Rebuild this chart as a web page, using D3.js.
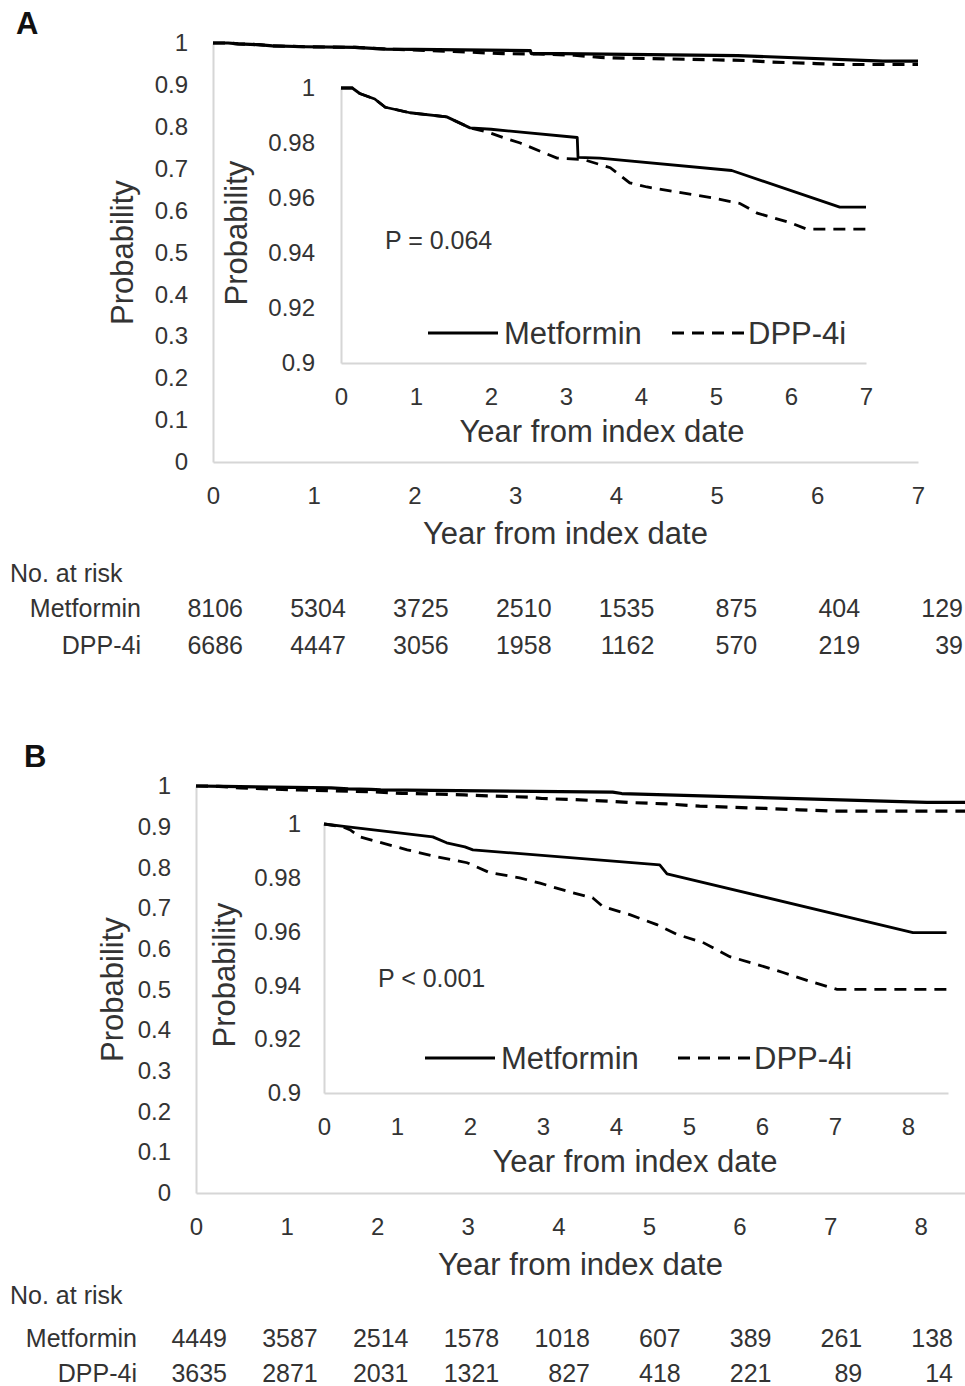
<!DOCTYPE html>
<html lang="en">
<head>
<meta charset="utf-8">
<title>Metformin vs DPP-4i</title>
<script src="https://cdn.jsdelivr.net/npm/d3@7"></script>
<style>
body { margin: 0; background: #fff; }
svg { display: block; font-family: "Liberation Sans", Arial, sans-serif; }
</style>
</head>
<body>
<script>
// ---- data ----
var seriesNames = ["Metformin", "DPP-4i"];

// panel A: [year, probability]
var metA = [[0,1],[0.15,1],[0.25,0.998],[0.45,0.996],[0.59,0.993],[0.92,0.991],[1.41,0.9895],
            [1.72,0.9855],[2.0,0.985],[3.15,0.982],[3.16,0.9748],[3.45,0.9745],[5.21,0.970],
            [6.65,0.9567],[7.0,0.9567]];
var dppA = [[0,1],[0.15,1],[0.25,0.998],[0.45,0.996],[0.59,0.993],[0.92,0.991],[1.41,0.9895],
            [1.72,0.9855],[1.95,0.984],[2.16,0.982],[2.39,0.980],[2.88,0.9745],[3.23,0.974],
            [3.59,0.971],[3.85,0.9655],[4.08,0.964],[4.96,0.960],[5.32,0.958],[5.55,0.9545],
            [5.99,0.951],[6.21,0.9487],[7.0,0.9487]];
var riskMetA = [8106, 5304, 3725, 2510, 1535, 875, 404, 129];
var riskDppA = [6686, 4447, 3056, 1958, 1162, 570, 219, 39];
var pTextA = "P = 0.064";

// panel B
var metB = [[0,1],[0.3,0.999],[1.49,0.9952],[1.68,0.993],[1.93,0.9915],[2.04,0.9904],
            [4.60,0.9848],[4.70,0.9815],[8.07,0.9596],[8.53,0.9596]];
var dppB = [[0,1],[0.25,0.999],[0.36,0.9978],[0.49,0.9952],[1.14,0.9904],[1.55,0.9878],
            [1.96,0.9856],[2.27,0.9819],[2.68,0.980],[2.96,0.978],[3.41,0.9744],[3.68,0.9726],
            [3.82,0.9693],[4.19,0.9663],[4.56,0.9626],[4.84,0.9589],[5.19,0.956],[5.56,0.9507],
            [5.93,0.9478],[6.29,0.9448],[6.66,0.9415],[7.03,0.9385],[8.53,0.9385]];
var riskMetB = [4449, 3587, 2514, 1578, 1018, 607, 389, 261, 138];
var riskDppB = [3635, 2871, 2031, 1321, 827, 418, 221, 89, 14];
var pTextB = "P < 0.001";

// ticks
var yTicksMain = [0, 0.1, 0.2, 0.3, 0.4, 0.5, 0.6, 0.7, 0.8, 0.9, 1];
var yTicksInset = [0.9, 0.92, 0.94, 0.96, 0.98, 1];
var xTicksA = [0, 1, 2, 3, 4, 5, 6, 7];
var xTicksB = [0, 1, 2, 3, 4, 5, 6, 7, 8];

var xTitle = "Year from index date";
var yTitle = "Probability";
var riskTitle = "No. at risk";

var W = 965, H = 1386;
var txt = "#333";
var axisCol = "#d6d6d6";
var fmt = function(d) { return String(+d.toFixed(2)); };

var svg = d3.select("body").append("svg")
  .attr("width", W).attr("height", H);
svg.append("rect").attr("width", W).attr("height", H).attr("fill", "#fff");

var line = function(x, y) {
  return d3.line().x(function(d){ return x(d[0]); }).y(function(d){ return y(d[1]); });
};

function styleAxis(g, size) {
  g.select(".domain").attr("stroke", axisCol).attr("stroke-width", 2);
  g.selectAll(".tick line").remove();
  g.selectAll("text").attr("font-size", size).attr("fill", txt)
   .attr("font-family", "'Liberation Sans', Arial, sans-serif");
}

function drawAxes(x, y, xt, yt, pad, fontSize) {
  var gx = svg.append("g").attr("transform", "translate(0," + y.range()[0] + ")")
    .call(d3.axisBottom(x).tickValues(xt).tickFormat(fmt).tickSize(0).tickSizeOuter(0).tickPadding(pad.x));
  styleAxis(gx, fontSize);
  var gy = svg.append("g").attr("transform", "translate(" + x.range()[0] + ",0)")
    .call(d3.axisLeft(y).tickValues(yt).tickFormat(fmt).tickSize(0).tickSizeOuter(0).tickPadding(pad.y));
  styleAxis(gy, fontSize);
}

function drawCurves(x, y, met, dpp, sw) {
  svg.append("path").datum(met).attr("d", line(x, y))
    .attr("fill", "none").attr("stroke", "#000").attr("stroke-width", sw)
    .attr("stroke-linejoin", "round");
  svg.append("path").datum(dpp).attr("d", line(x, y))
    .attr("fill", "none").attr("stroke", "#000").attr("stroke-width", sw)
    .attr("stroke-dasharray", "12,8");
}

function label(x, y, s, size, anchor, rot) {
  var t = svg.append("text").attr("x", x).attr("y", y).attr("dy", "0.35em")
    .attr("font-size", size).attr("fill", txt).attr("text-anchor", anchor || "start")
    .text(s);
  if (rot) t.attr("transform", "rotate(-90," + x + "," + y + ")");
  return t;
}

function panel(p) {
  // letter
  svg.append("text").attr("x", p.letter[0]).attr("y", p.letter[1])
    .attr("font-size", 31).attr("font-weight", "bold").attr("fill", "#111").text(p.name);

  // main chart
  var x = d3.scaleLinear().domain(p.mainX).range([p.main.l, p.main.r]);
  var y = d3.scaleLinear().domain([0, 1]).range([p.main.b, p.main.t]);
  drawAxes(x, y, p.xt, yTicksMain, {x: 25, y: 25}, 24);
  drawCurves(x, y, p.met, p.dpp, 3.2);
  label((p.main.l + p.main.r2) / 2, p.main.b + 71, xTitle, 31, "middle");
  label(p.main.yt, (p.main.t + p.main.b) / 2, yTitle, 31, "middle", true);

  // inset chart
  var xi = d3.scaleLinear().domain(p.insetX).range([p.inset.l, p.inset.r]);
  var yi = d3.scaleLinear().domain([0.9, 1]).range([p.inset.b, p.inset.t]);
  drawAxes(xi, yi, p.xt, yTicksInset, {x: 25, y: p.inset.pad}, 24);
  drawCurves(xi, yi, p.met, p.dpp, 2.8);
  label(p.inset.xc, p.inset.b + 68, xTitle, 31, "middle");
  label(p.inset.yt, p.inset.yc, yTitle, 31, "middle", true);
  label(p.pPos[0], p.pPos[1], p.pText, 25, "start");

  // legend
  var lg = p.legend;
  svg.append("line").attr("x1", lg.x1).attr("x2", lg.x1 + 70).attr("y1", lg.y).attr("y2", lg.y)
    .attr("stroke", "#000").attr("stroke-width", 2.8);
  label(lg.x1 + 76, lg.y, seriesNames[0], 31, "start");
  svg.append("line").attr("x1", lg.x2).attr("x2", lg.x2 + 72).attr("y1", lg.y).attr("y2", lg.y)
    .attr("stroke", "#000").attr("stroke-width", 2.8).attr("stroke-dasharray", "12,8");
  label(lg.x2 + 76, lg.y, seriesNames[1], 31, "start");

  // numbers at risk
  var rk = p.risk;
  var xr = d3.scaleLinear().domain([0, p.riskMet.length - 1]).range([rk.first, rk.last]);
  label(10, rk.title, riskTitle, 25, "start");
  label(rk.lab, rk.row1, seriesNames[0], 25, "end");
  label(rk.lab, rk.row2, seriesNames[1], 25, "end");
  svg.append("g").selectAll("text").data(p.riskMet).enter().append("text")
    .attr("x", function(d, i){ return xr(i); }).attr("y", rk.row1).attr("dy", "0.35em")
    .attr("text-anchor", "end").attr("font-size", 25).attr("fill", txt)
    .text(function(d){ return d; });
  svg.append("g").selectAll("text").data(p.riskDpp).enter().append("text")
    .attr("x", function(d, i){ return xr(i); }).attr("y", rk.row2).attr("dy", "0.35em")
    .attr("text-anchor", "end").attr("font-size", 25).attr("fill", txt)
    .text(function(d){ return d; });
}

panel({
  name: "A", letter: [16, 34],
  met: metA, dpp: dppA, xt: xTicksA, pText: pTextA,
  riskMet: riskMetA, riskDpp: riskDppA,
  mainX: [0, 7], main: {l: 213, r: 918, r2: 918, t: 43, b: 462, yt: 122},
  insetX: [0, 7], inset: {l: 341, r: 866, t: 88, b: 363, pad: 26, xc: 602, yt: 236, yc: 233},
  pPos: [385, 240],
  legend: {x1: 428, x2: 672, y: 333},
  risk: {title: 573, row1: 608, row2: 645, lab: 141, first: 243, last: 963}
});

panel({
  name: "B", letter: [24, 767],
  met: metB, dpp: dppB, xt: xTicksB, pText: pTextB,
  riskMet: riskMetB, riskDpp: riskDppB,
  mainX: [0, 8.6], main: {l: 196, r: 975, r2: 965, t: 786, b: 1193, yt: 112},
  insetX: [0, 8.55], inset: {l: 324, r: 948, t: 824, b: 1093, pad: 23, xc: 635, yt: 224, yc: 975},
  pPos: [378, 978],
  legend: {x1: 425, x2: 678, y: 1058},
  risk: {title: 1295, row1: 1338, row2: 1373, lab: 137, first: 227, last: 953}
});
</script>
</body>
</html>
